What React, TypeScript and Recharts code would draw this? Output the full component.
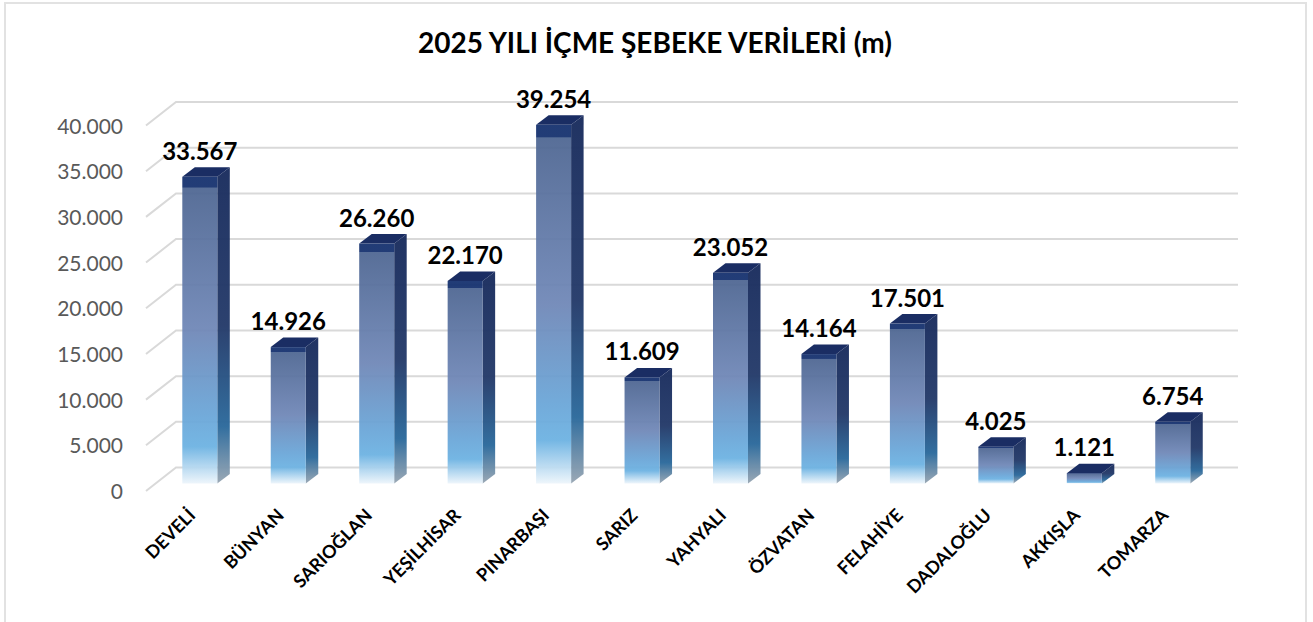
import React from "react";
import { BarChart, Bar, XAxis, YAxis, CartesianGrid, LabelList } from "recharts";

const categories = ["DEVELİ","BÜNYAN","SARIOĞLAN","YEŞİLHİSAR","PINARBAŞI","SARIZ","YAHYALI","ÖZVATAN","FELAHİYE","DADALOĞLU","AKKIŞLA","TOMARZA"];
const meters = [33567,14926,26260,22170,39254,11609,23052,14164,17501,4025,1121,6754];
const yTicks = [0,5000,10000,15000,20000,25000,30000,35000,40000];
const titleText = "2025 YILI İÇME ŞEBEKE VERİLERİ (m)";

const rows = categories.map((name, i) => ({ name, meters: meters[i] }));
const fmt = (v: number) => String(v).replace(/\B(?=(\d{3})+(?!\d))/g, ".");
const FONT = "Lato, 'Open Sans', sans-serif";
const DX = 12.5, DY = 9.5;

function Bar3D(props: any) {
  const { x, y, width, height } = props;
  const r = x + width, b = y + height;
  return (
    <g>
      <path d={`M${r} ${y}L${r + DX} ${y - DY}L${r + DX} ${b - DY}L${r} ${b}Z`} fill="url(#sideGrad)" fillOpacity={0.97} />
      <path d={`M${x} ${y}L${x + DX} ${y - DY}L${r + DX} ${y - DY}L${r} ${y}Z`} fill="#1a2d63" />
      <rect x={x} y={y} width={width} height={height} fill="url(#frontGrad)" fillOpacity={0.94} />
    </g>
  );
}

function GridLine(props: any) {
  const { y1 } = props;
  return (
    <path
      key={props.key ?? y1}
      d={`M146 ${y1 + 7.5}L176 ${y1 - 16}L1238 ${y1 - 16}`}
      fill="none"
      stroke="#d9d9d9"
      strokeWidth={2}
    />
  );
}

function YTick(props: any) {
  const { y, payload } = props;
  return (
    <text x={123} y={y + 15.5} textAnchor="end" fontFamily={FONT} fontSize={21} fill="#595959">
      {fmt(payload.value)}
    </text>
  );
}

function XTick(props: any) {
  const { x, y, payload } = props;
  const ax = x - 3, ay = y + 25;
  return (
    <text
      x={ax}
      y={ay}
      textAnchor="end"
      fontFamily={FONT}
      fontSize={18}
      fontWeight={700}
      fill="#000"
      transform={`rotate(-45 ${ax} ${ay})`}
    >
      {payload.value}
    </text>
  );
}

export default function App() {
  return (
    <div style={{ position: "absolute", left: 0, top: 0, width: 1313, height: 622, overflow: "hidden", background: "#fff" }}>
      <div style={{ position: "absolute", left: 4, top: 2, width: 1299, height: 700, border: "2px solid #e2e2e2", boxSizing: "content-box" }} />
      <div style={{ position: "absolute", left: 0, top: 0 }}>
        <BarChart
          width={1313}
          height={622}
          data={rows}
          margin={{ top: 118, right: 96.3, bottom: 0, left: 0 }}
        >
          <defs>
            <linearGradient id="frontGrad" x1="0" y1="0" x2="0" y2="1">
              <stop offset="0" stopColor="#14306e" />
              <stop offset="0.034" stopColor="#14306e" />
              <stop offset="0.036" stopColor="#4e6692" />
              <stop offset="0.5" stopColor="#6f87b7" />
              <stop offset="0.78" stopColor="#6aa6d8" />
              <stop offset="0.88" stopColor="#6cb2e2" />
              <stop offset="1" stopColor="#edf5fb" />
            </linearGradient>
            <linearGradient id="sideGrad" x1="0" y1="0" x2="0" y2="1">
              <stop offset="0" stopColor="#1a2d5e" />
              <stop offset="0.5" stopColor="#253b6a" />
              <stop offset="0.82" stopColor="#2c6a9c" />
              <stop offset="1" stopColor="#98a6b3" />
            </linearGradient>
          </defs>
          <text x={655} y={53} textAnchor="middle" fontFamily={FONT} fontSize={28} fontWeight={700} fill="#000">
            {titleText}
          </text>
          <CartesianGrid vertical={false} horizontal={GridLine as any} />
          <XAxis
            dataKey="name"
            interval={0}
            height={138.5}
            axisLine={false}
            tickLine={false}
            tick={XTick as any}
          />
          <YAxis
            width={155.3}
            domain={[0, 40000]}
            ticks={yTicks}
            axisLine={false}
            tickLine={false}
            tick={YTick as any}
          />
          <Bar dataKey="meters" barSize={35} shape={Bar3D as any} isAnimationActive={false}>
            <LabelList
              dataKey="meters"
              position="top"
              offset={17}
              formatter={(v: any) => fmt(v)}
              style={{ fontFamily: FONT, fontSize: 24, fontWeight: 700, fill: "#000" }}
            />
          </Bar>
        </BarChart>
      </div>
    </div>
  );
}
